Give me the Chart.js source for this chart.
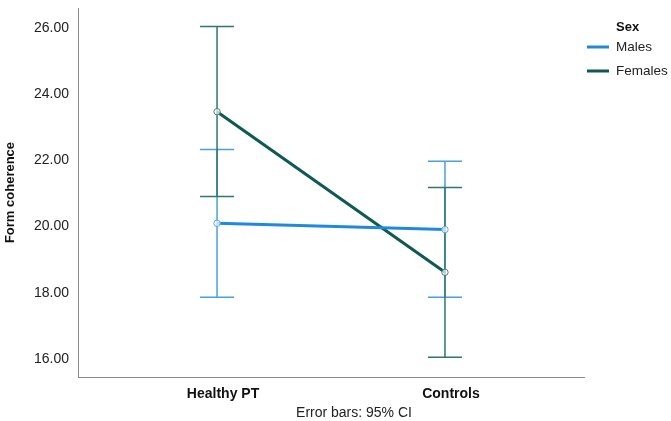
<!DOCTYPE html>
<html>
<head>
<meta charset="utf-8">
<script src="https://cdn.jsdelivr.net/npm/chart.js@4/dist/chart.umd.min.js"></script>
<style>
html,body{margin:0;padding:0;background:#fff;}
#wrap{width:671px;height:421px;position:relative;}
</style>
</head>
<body>
<div id="wrap"><canvas id="c" width="671" height="421"></canvas></div>
<script>
const categories = ['Healthy PT', 'Controls'];
const yTicks = [16, 18, 20, 22, 24, 26];
const malesMean = [20.10, 19.91];
const malesLow = [17.87, 17.87];
const malesHigh = [22.33, 21.97];
const femalesMean = [23.47, 18.62];
const femalesLow = [20.91, 16.06];
const femalesHigh = [26.04, 21.18];

const FONT = "'Liberation Sans', Arial, Helvetica, sans-serif";
const colors = {
  males: '#2189dd', malesBar: '#47a0e0',
  females: '#0c5a51', femalesBar: '#2d7770'
};

const errorBars = [
  {means: malesMean, lo: malesLow, hi: malesHigh, color: colors.malesBar},
  {means: femalesMean, lo: femalesLow, hi: femalesHigh, color: colors.femalesBar}
];

const errorBarPlugin = {
  id: 'errorBars',
  beforeDatasetsDraw(chart) {
    const ctx = chart.ctx, xs = chart.scales.x, ys = chart.scales.y;
    ctx.save();
    errorBars.forEach(eb => {
      ctx.strokeStyle = eb.color;
      ctx.lineWidth = 1.5;
      eb.lo.forEach((lo, i) => {
        const px = xs.getPixelForValue(i);
        const yl = ys.getPixelForValue(lo), yh = ys.getPixelForValue(eb.hi[i]);
        ctx.beginPath();
        ctx.moveTo(px, yl); ctx.lineTo(px, yh);
        ctx.moveTo(px - 17, yl); ctx.lineTo(px + 17, yl);
        ctx.moveTo(px - 17, yh); ctx.lineTo(px + 17, yh);
        ctx.stroke();
      });
    });
    ctx.restore();
  }
};

const legendPlugin = {
  id: 'customLegend',
  afterDraw(chart) {
    const ctx = chart.ctx;
    ctx.save();
    ctx.fillStyle = '#111';
    ctx.textBaseline = 'middle';
    ctx.textAlign = 'left';
    ctx.font = 'bold 13px ' + FONT;
    ctx.fillText('Sex', 616, 27);
    ctx.font = '13.5px ' + FONT;
    chart.data.datasets.forEach((ds, i) => {
      const y = 47 + i * 24;
      ctx.strokeStyle = ds.borderColor;
      ctx.lineWidth = 3;
      ctx.beginPath();
      ctx.moveTo(587, y); ctx.lineTo(609, y);
      ctx.stroke();
      ctx.fillStyle = '#222';
      ctx.fillText(ds.label, 616, y);
    });
    // axis note under the category axis
    ctx.font = '14px ' + FONT;
    ctx.textAlign = 'center';
    ctx.fillStyle = '#222';
    ctx.fillText('Error bars: 95% CI', 354, 413);
    ctx.restore();
  }
};

new Chart(document.getElementById('c'), {
  type: 'line',
  data: {
    datasets: [
      {
        label: 'Males',
        data: malesMean.map((v, i) => ({x: i, y: v})),
        borderColor: colors.males,
        backgroundColor: 'rgba(255,255,255,0.7)',
        pointBorderColor: '#5aa9e0',
        borderWidth: 3,
        pointRadius: 3.2,
        pointBorderWidth: 1,
        tension: 0
      },
      {
        label: 'Females',
        data: femalesMean.map((v, i) => ({x: i, y: v})),
        borderColor: colors.females,
        backgroundColor: 'rgba(255,255,255,0.7)',
        pointBorderColor: '#4f7f7a',
        borderWidth: 3,
        pointRadius: 3.2,
        pointBorderWidth: 1,
        tension: 0
      }
    ]
  },
  options: {
    responsive: false,
    animation: false,
    devicePixelRatio: 1,
    layout: {padding: {left: 0, top: 8, right: 87, bottom: 0}},
    plugins: {legend: {display: false}, tooltip: {enabled: false}},
    scales: {
      x: {
        type: 'linear',
        min: -0.61, max: 1.61,
        grid: {display: false, drawTicks: false},
        border: {display: true, color: '#8a8a8a', width: 1},
        afterBuildTicks: s => { s.ticks = categories.map((c, i) => ({value: i})); },
        ticks: {
          callback: v => categories[v],
          font: {family: FONT, size: 14, weight: 'bold'},
          color: '#111',
          padding: 9,
          labelOffset: 6,
          maxRotation: 0
        },
        afterFit: s => { s.height = 44; s.paddingLeft = 0; s.paddingRight = 0; }
      },
      y: {
        min: 15.46, max: 26.6,
        grid: {display: false, drawTicks: false},
        border: {display: true, color: '#8a8a8a', width: 1},
        afterBuildTicks: s => { s.ticks = yTicks.map(v => ({value: v})); },
        ticks: {
          callback: v => Number(v).toFixed(2),
          font: {family: FONT, size: 14},
          color: '#222',
          padding: 9
        },
        title: {display: true, text: 'Form coherence', font: {family: FONT, size: 13, weight: 'bold'}, color: '#111', padding: {top: 3, bottom: 4}},
        afterFit: s => { s.width = 78; s.paddingTop = 0; s.paddingBottom = 0; }
      }
    }
  },
  plugins: [errorBarPlugin, legendPlugin]
});
</script>
</body>
</html>
